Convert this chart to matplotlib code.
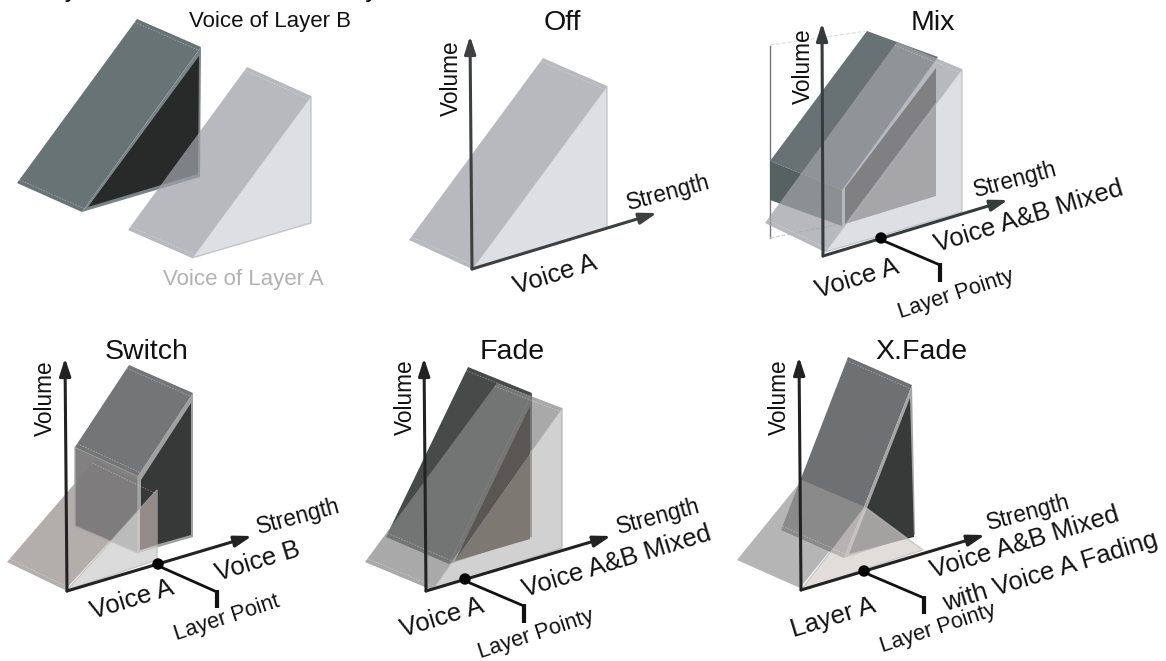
import matplotlib
matplotlib.use("Agg")
import matplotlib.pyplot as plt
from matplotlib.patches import Polygon, Circle

plt.rcParams['font.family'] = ['Liberation Sans', 'DejaVu Sans']

# all shapes are read off the picture, in pixels from the top left corner
# first panel, the two voices apart
legend_b_slope = [(137, 19), (201, 47), (82, 212), (17, 183)]
legend_b_under = [(201, 47), (82, 212), (200, 177)]
legend_b_side = [(199, 56), (88, 207), (198, 174)]
legend_a_slope = [(247, 67), (311, 96), (192, 258), (128, 230)]
legend_a_side = [(311, 96), (192, 258), (311, 223)]

# Off
off_a_slope = [(543, 58), (607, 86), (472, 269), (409, 240)]
off_a_side = [(607, 86), (472, 269), (607, 228)]
off_axis = [(472, 269), (470, 36), (657, 213)]

# Mix
mix_b_slope = [(867, 31), (938, 57), (842, 190), (770, 161)]
mix_b_front = [(770, 161), (842, 190), (842, 226), (770, 200)]
mix_b_side = [(936, 68), (845, 188), (845, 224), (936, 196)]
mix_a_slope = [(897, 42), (962, 69), (825, 252), (765, 223)]
mix_a_side = [(962, 69), (825, 252), (962, 212)]
mix_axis = [(823, 256), (822, 23), (1008, 200)]
mix_dot = (881, 238)
mix_leader = [(884, 241), (940, 265), (940, 282)]
mix_frame = [(770, 46), (770, 238)]
mix_frame_top = [(770, 45), (867, 31)]
mix_frame_low = [(770, 238), (850, 222)]

# Switch
switch_a_slope = [(95, 460), (157, 490), (65, 590), (7, 562)]
switch_a_side = [(157, 490), (67, 590), (157, 560)]
switch_b_top = [(129, 365), (193, 393), (138, 476), (75, 447)]
switch_b_front = [(75, 447), (138, 476), (138, 553), (75, 526)]
switch_b_under = [(193, 393), (138, 476), (138, 553), (193, 537)]
switch_b_side = [(191, 403), (141, 480), (141, 549), (191, 535)]
switch_overlap = [(157, 490), (140, 509), (140, 550), (157, 545)]
switch_axis = [(67, 591), (65, 358), (252, 536)]
switch_dot = (158, 564)
switch_leader = [(163, 568), (217, 592), (217, 608)]

# Fade
fade_a_slope = [(497, 383), (562, 408), (432, 590), (365, 562)]
fade_a_side = [(562, 408), (432, 590), (562, 548)]
fade_b_slope = [(468, 367), (532, 393), (449, 564), (386, 537)]
fade_b_under = [(532, 393), (449, 564), (532, 537)]
fade_dark = [(530, 406), (455, 561), (530, 454)]
fade_mid = [(530, 454), (455, 561), (530, 539)]
fade_axis = [(426, 591), (424, 358), (611, 536)]
fade_dot = (465, 579)
fade_leader = [(470, 583), (524, 606), (524, 623)]

# X.Fade
xfade_a_slope = [(802, 480), (865, 507), (800, 588), (737, 560)]
xfade_a_side = [(865, 507), (801, 590), (923, 550)]
xfade_b_slope = [(848, 357), (912, 385), (844, 558), (781, 530)]
xfade_b_under = [(912, 385), (844, 558), (915, 535)]
xfade_b_side = [(910, 398), (849, 554), (914, 537)]
xfade_axis = [(801, 590), (799, 357), (985, 535)]
xfade_dot = (864, 571)
xfade_leader = [(870, 575), (924, 598), (924, 614)]

# text positions
panel_titles = ["Off", "Mix", "Switch", "Fade", "X.Fade"]
title_x = [562, 933, 147, 512, 921]
title_y = [23, 23, 352, 352, 352]

volume_x = [451, 803, 45, 405, 779]
volume_y = [78, 66, 398, 397, 397]

strength_x = [668, 1015, 298, 658, 1028]
strength_y = [193, 180, 517, 517, 513]

voice_labels = ["Voice A", "Voice A", "Voice A", "Voice A", "Layer A",
                "Voice B", "Voice A&B Mixed", "Voice A&B Mixed",
                "Voice A&B Mixed", "with Voice A Fading"]
voice_x = [555, 857, 132, 442, 833, 258, 1029, 617, 1025, 1050]
voice_y = [275, 279, 600, 618, 618, 562, 217, 562, 543, 572]

point_labels = ["Layer Pointy", "Layer Point", "Layer Pointy", "Layer Pointy"]
point_x = [956, 227, 536, 938]
point_y = [294, 618, 634, 628]

fig = plt.figure(figsize=(11.66, 6.61), dpi=100)
ax = fig.add_axes([0, 0, 1, 1])
ax.set_xlim(0, 1166)
ax.set_ylim(661, 0)
ax.axis('off')


def shape(pts, color, alpha=1.0, edge=None, z=2):
    p = Polygon(pts, closed=True, facecolor=matplotlib.colors.to_rgba(color, alpha),
                edgecolor=matplotlib.colors.to_rgba(edge, alpha) if edge else 'none',
                linewidth=1.0, joinstyle='miter', zorder=z)
    ax.add_patch(p)


def inset_dashes(pts, color='#ffffff', alpha=0.35, z=3):
    # the little dashed lines at both ends of a slope
    a, b, c, d = pts
    for p, q, r, s in [(a, b, d, c), (d, c, a, b)]:
        t = 4 / ((r[0] - p[0])**2 + (r[1] - p[1])**2)**0.5
        x = [p[0] + (r[0] - p[0]) * t, q[0] + (s[0] - q[0]) * t]
        y = [p[1] + (r[1] - p[1]) * t, q[1] + (s[1] - q[1]) * t]
        ax.plot(x, y, color=color, alpha=alpha, lw=0.6, ls=(0, (2, 1.5)), zorder=z)


def axes_arrows(pts, color):
    o, up, right = pts
    for end in (up, right):
        ax.annotate("", xy=end, xytext=o, zorder=6,
                    arrowprops=dict(arrowstyle='-|>,head_length=0.75,head_width=0.24',
                                    color=color, lw=2.2, shrinkA=0, shrinkB=0,
                                    mutation_scale=14))


def layer_point(dot, leader):
    ax.add_patch(Circle(dot, 5, color='black', zorder=7))
    ax.plot([dot[0], leader[0][0], leader[1][0]], [dot[1], leader[0][1], leader[1][1]],
            color='#111111', lw=2.0, solid_joinstyle='miter', zorder=6)
    ax.plot([leader[1][0], leader[2][0]], [leader[1][1] - 2, leader[2][1]],
            color='#111111', lw=3.0, solid_capstyle='butt', zorder=6)


# panel 1
shape(legend_b_slope, '#687375')
shape(legend_b_under, '#7a8486')
shape(legend_b_side, '#272a29')
inset_dashes(legend_b_slope)
shape(legend_a_slope, '#9ea1a8', 0.74, z=4)
shape(legend_a_side, '#d2d4da', 0.74, edge='#b4b7bd', z=4)
inset_dashes(legend_a_slope, z=5)

# Off
shape(off_a_slope, '#9ea1a8', 0.74)
shape(off_a_side, '#d2d4da', 0.74, edge='#b4b7bd')
inset_dashes(off_a_slope)
axes_arrows(off_axis, '#3c4040')

# Mix
ax.plot(*zip(*mix_frame), color='#777777', lw=1.0, zorder=1)
ax.plot(*zip(*mix_frame_top), color='#dddddd', lw=0.8, ls='--', zorder=1)
ax.plot(*zip(*mix_frame_low), color='#cccccc', lw=0.8, ls='--', zorder=1)
shape(mix_b_slope, '#687174')
shape(mix_b_front, '#56625f')
shape(mix_b_side, '#2a2522')
shape(mix_a_slope, '#9fa1a5', 0.74, z=4)
shape(mix_a_side, '#d2d4da', 0.74, edge='#b4b7bd', z=4)
inset_dashes(mix_a_slope, z=5)
axes_arrows(mix_axis, '#363c3c')
layer_point(mix_dot, mix_leader)

# Switch
shape(switch_a_slope, '#b3aeac')
shape(switch_b_under, '#a0a0a0', z=3)
shape(switch_b_side, '#373938', z=3)
shape(switch_b_front, '#7b7a7a', 0.95, edge='#a5a5a5', z=3)
shape(switch_b_top, '#737577', z=3)
shape(switch_a_side, '#cfcfcf', 0.75, edge='#bbbbbb', z=4)
shape(switch_overlap, '#948a88', z=4)
inset_dashes(switch_a_slope, z=5)
inset_dashes(switch_b_top, z=5)
axes_arrows(switch_axis, '#222222')
layer_point(switch_dot, switch_leader)

# Fade
shape(fade_b_slope, '#484a4a')
shape(fade_b_under, '#4c4c4c')
shape(fade_a_slope, '#868686', 0.71, z=4)
shape(fade_a_side, '#bfbfbf', 0.71, edge='#aaaaaa', z=4)
shape(fade_dark, '#5a5653', z=5)
shape(fade_mid, '#7e7873', z=5)
inset_dashes(fade_a_slope, z=5)
inset_dashes(fade_b_slope, z=5)
axes_arrows(fade_axis, '#222222')
layer_point(fade_dot, fade_leader)

# X.Fade
shape(xfade_b_slope, '#6f7071')
shape(xfade_b_under, '#a5a5a5')
shape(xfade_b_side, '#383a39')
shape(xfade_a_slope, '#969696', 0.7, z=4)
shape(xfade_a_side, '#d3cfcd', 0.7, edge='#bbbbbb', z=4)
inset_dashes(xfade_b_slope, z=5)
axes_arrows(xfade_axis, '#222222')
layer_point(xfade_dot, xfade_leader)

# heading cut off by the top edge, only the descenders show
ax.text(36, -2.5, "Layer Feature and Mode Only", fontsize=18.5, color='black',
        ha='left', va='baseline', clip_on=False)
ax.text(270, 22, "Voice of Layer B", fontsize=16, color='#111111', ha='center', va='center')
ax.text(243, 279, "Voice of Layer A", fontsize=16, color='#b2b2b2', ha='center', va='center')

for t, x, y in zip(panel_titles, title_x, title_y):
    ax.text(x, y, t, fontsize=20.5, color='#111111', ha='center', va='center', zorder=8)
for x, y in zip(volume_x, volume_y):
    ax.text(x, y, "Volume", fontsize=16.3, rotation=90, color='#111111',
            ha='center', va='center', zorder=8)
for x, y in zip(strength_x, strength_y):
    ax.text(x, y, "Strength", fontsize=16.3, rotation=15, color='#111111',
            ha='center', va='center', rotation_mode='anchor', zorder=8)
for t, x, y in zip(voice_labels, voice_x, voice_y):
    ax.text(x, y, t, fontsize=18.5, rotation=17, color='#111111',
            ha='center', va='center', rotation_mode='anchor', zorder=8)
for t, x, y in zip(point_labels, point_x, point_y):
    ax.text(x, y, t, fontsize=15.7, rotation=18, color='#111111',
            ha='center', va='center', rotation_mode='anchor', zorder=8)

fig.savefig('out.png', dpi=100)
